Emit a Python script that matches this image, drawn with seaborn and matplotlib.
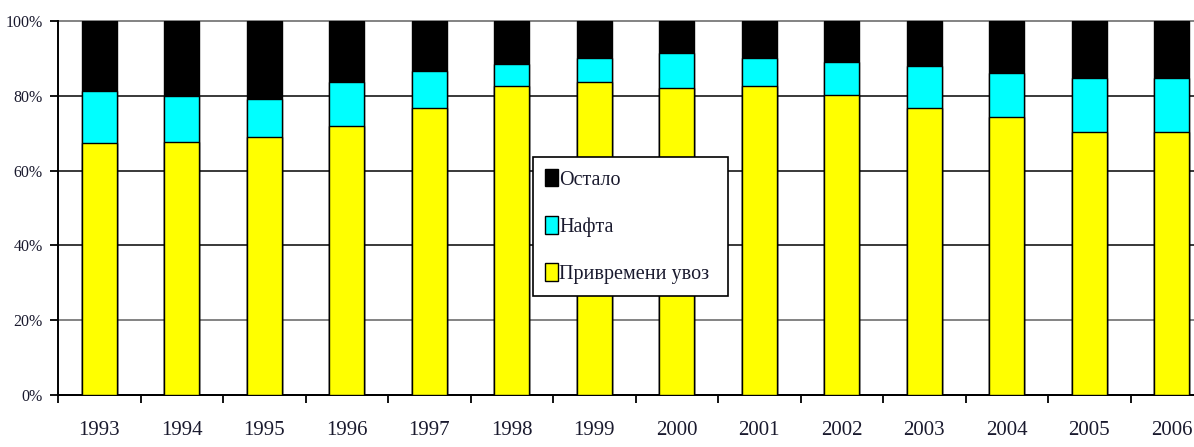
import matplotlib
matplotlib.use("Agg")
import matplotlib.pyplot as plt
import numpy as np
import pandas as pd
import seaborn as sns
from matplotlib.ticker import FixedLocator

years = ["1993", "1994", "1995", "1996", "1997", "1998", "1999",
         "2000", "2001", "2002", "2003", "2004", "2005", "2006"]
# shares of total imports, percent
privremeni_uvoz = [67.3, 67.7, 69.1, 72.0, 76.8, 82.7, 83.8,
                   82.0, 82.7, 80.2, 76.8, 74.4, 70.2, 70.2]
nafta = [14.1, 12.3, 10.0, 11.8, 9.8, 5.7, 6.4,
         9.4, 7.5, 8.9, 11.1, 11.7, 14.6, 14.6]
ostalo = [18.6, 20.0, 20.9, 16.2, 13.4, 11.6, 9.8,
          8.6, 9.8, 10.9, 12.1, 13.9, 15.2, 15.2]
series_labels = ["Остало", "Нафта", "Привремени увоз"]
series_colors = ["#000000", "#00FFFF", "#FFFF00"]
y_ticks = [0, 20, 40, 60, 80, 100]

sns.set_style("white")
plt.rcParams["font.family"] = ["Liberation Serif", "DejaVu Serif"]
text_color = "#1a1a2e"

df = pd.DataFrame({
    "year": years,
    "uvoz": privremeni_uvoz,
    "nafta": nafta,
    "ostalo": ostalo,
})
df["top_nafta"] = df["uvoz"] + df["nafta"]
df["top_ostalo"] = df["top_nafta"] + df["ostalo"]

fig = plt.figure(figsize=(11.94, 4.47), dpi=100)
ax = fig.add_axes([58 / 1194, 1 - 395 / 447, 1136 / 1194, 374 / 447])

# stacked bars: draw cumulative totals from the top layer down
for col, lab, colr in zip(["top_ostalo", "top_nafta", "uvoz"], series_labels, series_colors):
    sns.barplot(data=df, x="year", y=col, color=colr, saturation=1,
                width=0.43, edgecolor="black", linewidth=1.0,
                label=lab, ax=ax, zorder=3)

ax.set_xlim(-0.5, -0.5 + 1136 / 82.5)
ax.set_ylim(0, 100)
ax.set_xlabel("")
ax.set_ylabel("")

ax.set_yticks(y_ticks)
ax.set_yticklabels([f"{t}%" for t in y_ticks])
ax.yaxis.grid(True, color="#2a2a2a", linewidth=1.3, zorder=0)
ax.set_axisbelow(True)
for t, gl in zip(y_ticks, ax.get_ygridlines()):
    gl.set_clip_on(False)
    if t in (20, 100):
        gl.set_color("#7a7a7a")

ax.xaxis.set_minor_locator(FixedLocator(np.arange(-0.5, len(years), 1.0)))
ax.tick_params(axis="x", which="major", length=0, pad=19, labelsize=15, labelcolor=text_color)
ax.tick_params(axis="x", which="minor", length=6, width=1.3, color="black", direction="out", bottom=True)
ax.tick_params(axis="y", which="major", length=6, width=1.3, color="black", direction="out",
               left=True, pad=5, labelsize=11.5, labelcolor=text_color)

for side in ["top", "right"]:
    ax.spines[side].set_visible(False)
for side in ["left", "bottom"]:
    ax.spines[side].set_color("black")
    ax.spines[side].set_linewidth(1.4)

# legend box spans a fixed width inside the plot area
leg_x0 = (533 - 58) / 1136
leg_w = (728 - 533) / 1136
leg_top = (395 - 157) / 374
leg = ax.legend(loc="upper left", bbox_to_anchor=(leg_x0, leg_top - 0.01, leg_w, 0.01),
                mode="expand", borderaxespad=0, frameon=True, fancybox=False, fontsize=14.5,
                handlelength=0.65, handleheight=0.95, handletextpad=0.05,
                labelspacing=1.32, borderpad=0.6, labelcolor=text_color)
leg.get_frame().set_edgecolor("black")
leg.get_frame().set_linewidth(1.2)
leg.get_frame().set_alpha(1)

fig.savefig("out.png", dpi=100)
